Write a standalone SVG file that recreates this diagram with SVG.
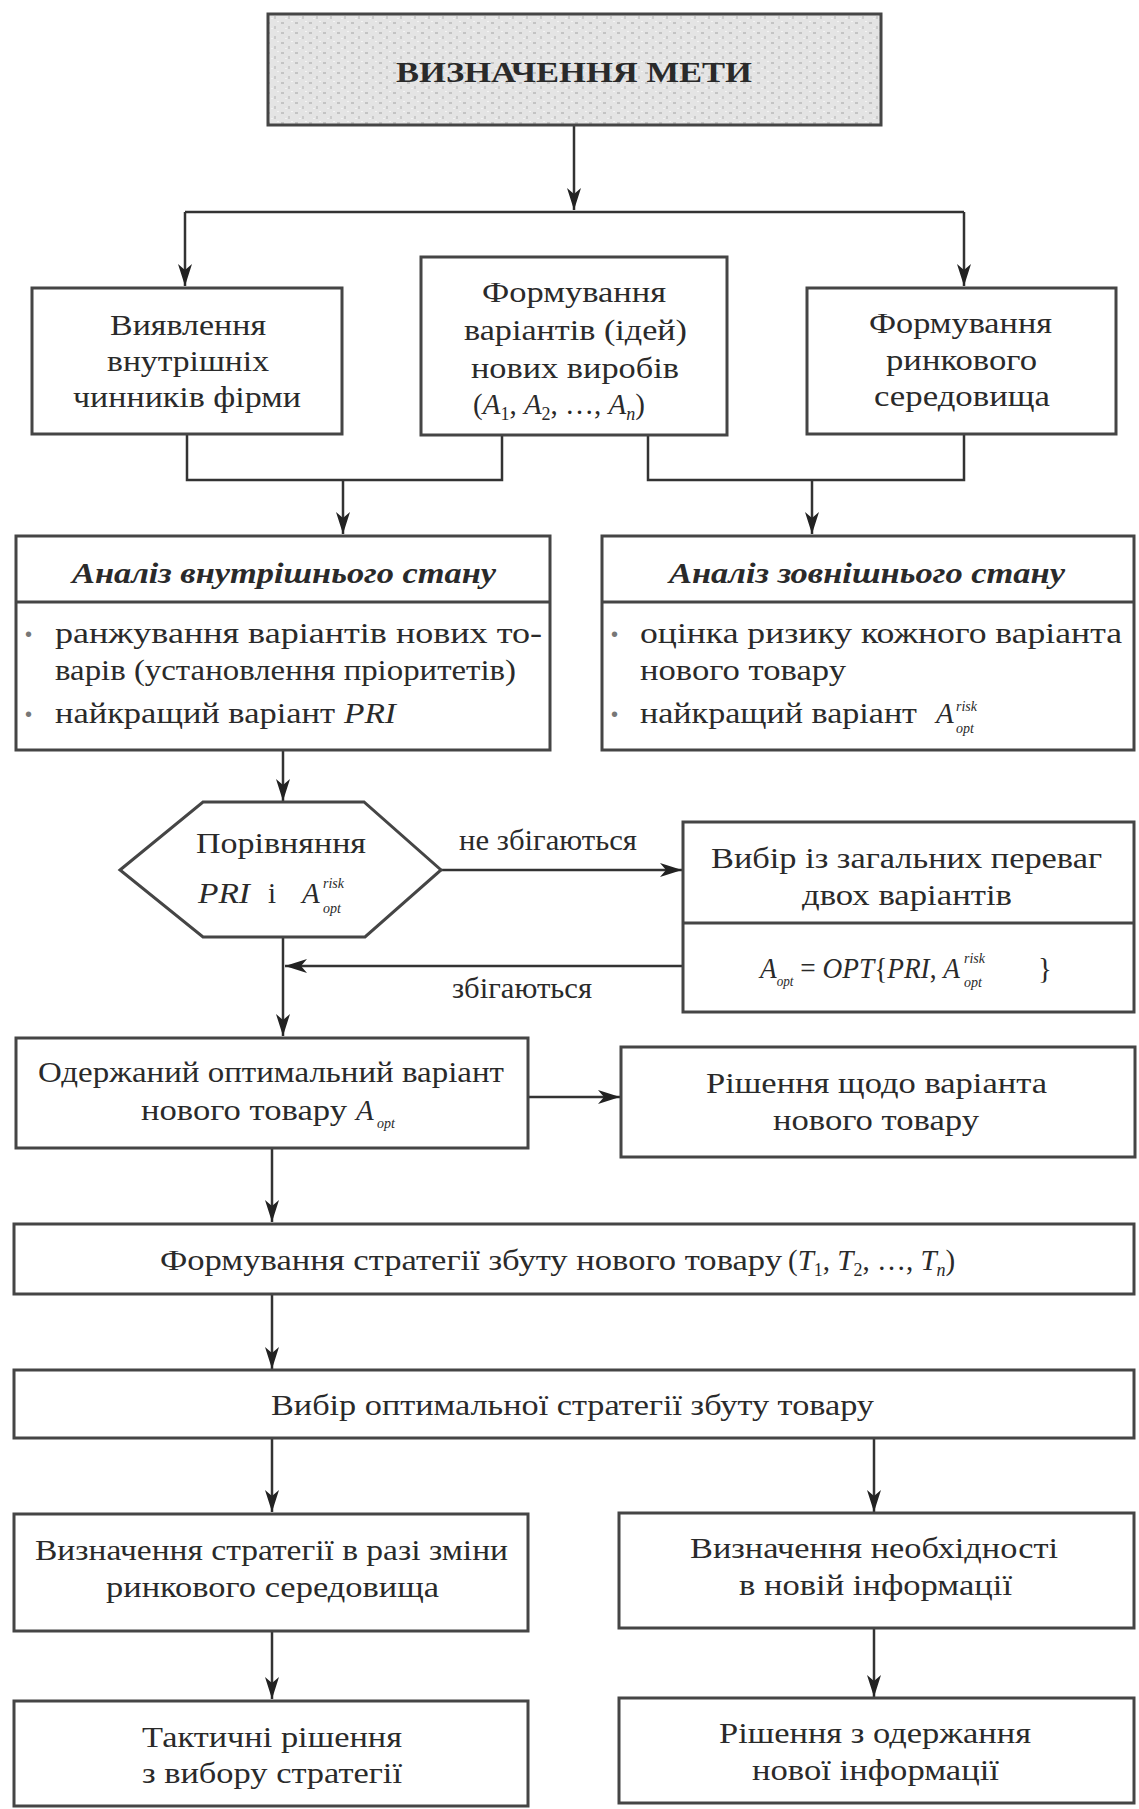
<svg xmlns="http://www.w3.org/2000/svg" width="1139" height="1809" viewBox="0 0 1139 1809">
<defs>
<marker id="arr" markerUnits="userSpaceOnUse" markerWidth="24" markerHeight="14" refX="22" refY="7" orient="auto">
<path d="M0,0 L22,7 L0,14 L6,7 z" fill="#222"/>
</marker>
<pattern id="speckle" width="14" height="10" patternUnits="userSpaceOnUse">
<rect width="14" height="10" fill="#e4e4e4"/>
<rect x="1" y="2" width="3" height="2" fill="#c4c4c4"/>
<rect x="8" y="6" width="2" height="3" fill="#cbcbcb"/>
<rect x="11" y="1" width="2" height="1" fill="#f4f4f4"/>
<rect x="5" y="8" width="2" height="1" fill="#f2f2f2"/>
</pattern>
<style>
.box{fill:#fff;stroke:#454545;stroke-width:3}
.ln{fill:none;stroke:#333;stroke-width:2.5}
.t{font-family:"Liberation Serif","Times New Roman",serif;font-size:29px;fill:#2a2a2a}
.c{text-anchor:middle}
.bi{font-weight:bold;font-style:italic}
.i{font-style:italic}
.sm{font-family:"Liberation Serif","Times New Roman",serif;font-size:14px;font-style:italic;fill:#2a2a2a}
.bul{font-family:"Liberation Sans",sans-serif;font-size:20px;fill:#777}
</style>
</defs>

<g id="connectors">
<path class="ln" d="M574,126 V210" marker-end="url(#arr)"/>
<path class="ln" d="M185,212 H964"/>
<path class="ln" d="M185,212 V286" marker-end="url(#arr)"/>
<path class="ln" d="M964,212 V286" marker-end="url(#arr)"/>
<path class="ln" d="M187,434 V480 H502 V436"/>
<path class="ln" d="M343,480 V534" marker-end="url(#arr)"/>
<path class="ln" d="M648,436 V480 H964 V434"/>
<path class="ln" d="M812,480 V534" marker-end="url(#arr)"/>
<path class="ln" d="M283,750 V801" marker-end="url(#arr)"/>
<path class="ln" d="M441,870 H682" marker-end="url(#arr)"/>
<path class="ln" d="M683,966 H285" marker-end="url(#arr)"/>
<path class="ln" d="M283,937 V1036" marker-end="url(#arr)"/>
<path class="ln" d="M528,1097 H620" marker-end="url(#arr)"/>
<path class="ln" d="M272,1148 V1222" marker-end="url(#arr)"/>
<path class="ln" d="M272,1294 V1369" marker-end="url(#arr)"/>
<path class="ln" d="M272,1438 V1512" marker-end="url(#arr)"/>
<path class="ln" d="M874,1438 V1512" marker-end="url(#arr)"/>
<path class="ln" d="M272,1631 V1699" marker-end="url(#arr)"/>
<path class="ln" d="M874,1628 V1697" marker-end="url(#arr)"/>
<text class="t" x="459" y="850" textLength="178" lengthAdjust="spacingAndGlyphs">не збігаються</text>
<text class="t" x="452" y="998" textLength="140" lengthAdjust="spacingAndGlyphs">збігаються</text>
</g>

<g id="goal">
<rect x="268" y="14" width="613" height="111" fill="url(#speckle)" stroke="#454545" stroke-width="3"/>
<text class="t" x="396" y="82" font-weight="bold" font-size="28" textLength="356" lengthAdjust="spacingAndGlyphs">ВИЗНАЧЕННЯ МЕТИ</text>
</g>

<g id="internal-factors">
<rect class="box" x="32" y="288" width="310" height="146"/>
<text class="t" x="110" y="335" textLength="156" lengthAdjust="spacingAndGlyphs">Виявлення</text>
<text class="t" x="107" y="371" textLength="162" lengthAdjust="spacingAndGlyphs">внутрішніх</text>
<text class="t" x="73" y="407" textLength="228" lengthAdjust="spacingAndGlyphs">чинників фірми</text>
</g>

<g id="variants">
<rect class="box" x="421" y="257" width="306" height="178"/>
<text class="t" x="482" y="302" textLength="184" lengthAdjust="spacingAndGlyphs">Формування</text>
<text class="t" x="464" y="340" textLength="223" lengthAdjust="spacingAndGlyphs">варіантів (ідей)</text>
<text class="t" x="471" y="378" textLength="208" lengthAdjust="spacingAndGlyphs">нових виробів</text>
<text class="t" x="473" y="414">(<tspan class="i">A</tspan><tspan font-size="18" dy="6">1</tspan><tspan dy="-6">, </tspan><tspan class="i">A</tspan><tspan font-size="18" dy="6">2</tspan><tspan dy="-6">, …, </tspan><tspan class="i">A</tspan><tspan font-size="18" font-style="italic" dy="6">n</tspan><tspan dy="-6">)</tspan></text>
</g>

<g id="market-environment">
<rect class="box" x="807" y="288" width="309" height="146"/>
<text class="t" x="869" y="333" textLength="183" lengthAdjust="spacingAndGlyphs">Формування</text>
<text class="t" x="886" y="370" textLength="151" lengthAdjust="spacingAndGlyphs">ринкового</text>
<text class="t" x="874" y="406" textLength="176" lengthAdjust="spacingAndGlyphs">середовища</text>
</g>

<g id="internal-analysis">
<rect class="box" x="16" y="536" width="534" height="214"/>
<line x1="16" y1="602" x2="550" y2="602" stroke="#454545" stroke-width="3"/>
<text class="t bi" x="72" y="583" textLength="424" lengthAdjust="spacingAndGlyphs">Аналіз внутрішнього стану</text>
<text class="bul" x="25" y="641">•</text>
<text class="t" x="55" y="643" textLength="487" lengthAdjust="spacingAndGlyphs">ранжування варіантів нових то-</text>
<text class="t" x="55" y="680" textLength="461" lengthAdjust="spacingAndGlyphs">варів (установлення пріоритетів)</text>
<text class="bul" x="25" y="721">•</text>
<text class="t" x="55" y="723" textLength="280" lengthAdjust="spacingAndGlyphs">найкращий варіант</text>
<text class="t i" x="344" y="723" textLength="52" lengthAdjust="spacingAndGlyphs">PRI</text>
</g>

<g id="external-analysis">
<rect class="box" x="602" y="536" width="532" height="214"/>
<line x1="602" y1="602" x2="1134" y2="602" stroke="#454545" stroke-width="3"/>
<text class="t bi" x="669" y="583" textLength="396" lengthAdjust="spacingAndGlyphs">Аналіз зовнішнього стану</text>
<text class="bul" x="611" y="641">•</text>
<text class="t" x="640" y="643" textLength="482" lengthAdjust="spacingAndGlyphs">оцінка ризику кожного варіанта</text>
<text class="t" x="640" y="680" textLength="206" lengthAdjust="spacingAndGlyphs">нового товару</text>
<text class="bul" x="611" y="721">•</text>
<text class="t" x="640" y="723" textLength="277" lengthAdjust="spacingAndGlyphs">найкращий варіант</text>
<text class="t i" x="936" y="723">A</text>
<text class="sm" x="956" y="711">risk</text>
<text class="sm" x="956" y="733">opt</text>
</g>

<g id="comparison">
<polygon points="120,870 203,802 364,802 441,870 365,937 203,937" fill="#fff" stroke="#454545" stroke-width="3"/>
<text class="t" x="196" y="853" textLength="170" lengthAdjust="spacingAndGlyphs">Порівняння</text>
<text class="t i" x="198" y="903" textLength="52" lengthAdjust="spacingAndGlyphs">PRI</text>
<text class="t" x="268" y="903">і</text>
<text class="t i" x="302" y="903">A</text>
<text class="sm" x="323" y="888">risk</text>
<text class="sm" x="323" y="913">opt</text>
</g>

<g id="choice">
<rect class="box" x="683" y="822" width="451" height="190"/>
<line x1="683" y1="923" x2="1134" y2="923" stroke="#454545" stroke-width="3"/>
<text class="t" x="711" y="868" textLength="391" lengthAdjust="spacingAndGlyphs">Вибір із загальних переваг</text>
<text class="t" x="802" y="905" textLength="210" lengthAdjust="spacingAndGlyphs">двох варіантів</text>
<text class="t" x="760" y="978" textLength="200" lengthAdjust="spacingAndGlyphs"><tspan class="i">A</tspan><tspan font-size="14" font-style="italic" dy="8">opt</tspan><tspan dy="-8"> = </tspan><tspan class="i">OPT</tspan>{<tspan class="i">PRI</tspan>, <tspan class="i">A</tspan></text>
<text class="sm" x="964" y="963">risk</text>
<text class="sm" x="964" y="987">opt</text>
<text class="t" x="1038" y="978" font-size="28">}</text>
</g>

<g id="optimal-variant">
<rect class="box" x="16" y="1038" width="512" height="110"/>
<text class="t" x="38" y="1082" textLength="466" lengthAdjust="spacingAndGlyphs">Одержаний оптимальний варіант</text>
<text class="t" x="141" y="1120" textLength="206" lengthAdjust="spacingAndGlyphs">нового товару</text>
<text class="t i" x="356" y="1120">A</text>
<text class="sm" x="377" y="1128">opt</text>
</g>

<g id="variant-decision">
<rect class="box" x="621" y="1047" width="514" height="110"/>
<text class="t" x="706" y="1093" textLength="341" lengthAdjust="spacingAndGlyphs">Рішення щодо варіанта</text>
<text class="t" x="773" y="1130" textLength="206" lengthAdjust="spacingAndGlyphs">нового товару</text>
</g>

<g id="sales-strategy">
<rect class="box" x="14" y="1224" width="1120" height="70"/>
<text class="t" x="160" y="1270" textLength="622" lengthAdjust="spacingAndGlyphs">Формування стратегії збуту нового товару</text>
<text class="t" x="788" y="1270">(<tspan class="i">T</tspan><tspan font-size="18" dy="6">1</tspan><tspan dy="-6">, </tspan><tspan class="i">T</tspan><tspan font-size="18" dy="6">2</tspan><tspan dy="-6">, …, </tspan><tspan class="i">T</tspan><tspan font-size="18" font-style="italic" dy="6">n</tspan><tspan dy="-6">)</tspan></text>
</g>

<g id="optimal-strategy">
<rect class="box" x="14" y="1370" width="1120" height="68"/>
<text class="t" x="271" y="1415" textLength="603" lengthAdjust="spacingAndGlyphs">Вибір оптимальної стратегії збуту товару</text>
</g>

<g id="strategy-change">
<rect class="box" x="14" y="1514" width="514" height="117"/>
<text class="t" x="35" y="1560" textLength="473" lengthAdjust="spacingAndGlyphs">Визначення стратегії в разі зміни</text>
<text class="t" x="106" y="1597" textLength="333" lengthAdjust="spacingAndGlyphs">ринкового середовища</text>
</g>

<g id="info-need">
<rect class="box" x="619" y="1513" width="515" height="115"/>
<text class="t" x="690" y="1558" textLength="368" lengthAdjust="spacingAndGlyphs">Визначення необхідності</text>
<text class="t" x="739" y="1595" textLength="273" lengthAdjust="spacingAndGlyphs">в новій інформації</text>
</g>

<g id="tactical-decisions">
<rect class="box" x="14" y="1701" width="514" height="105"/>
<text class="t" x="142" y="1747" textLength="260" lengthAdjust="spacingAndGlyphs">Тактичні рішення</text>
<text class="t" x="142" y="1783" textLength="260" lengthAdjust="spacingAndGlyphs">з вибору стратегії</text>
</g>

<g id="info-decision">
<rect class="box" x="619" y="1698" width="515" height="105"/>
<text class="t" x="719" y="1743" textLength="312" lengthAdjust="spacingAndGlyphs">Рішення з одержання</text>
<text class="t" x="752" y="1780" textLength="247" lengthAdjust="spacingAndGlyphs">нової інформації</text>
</g>
</svg>
